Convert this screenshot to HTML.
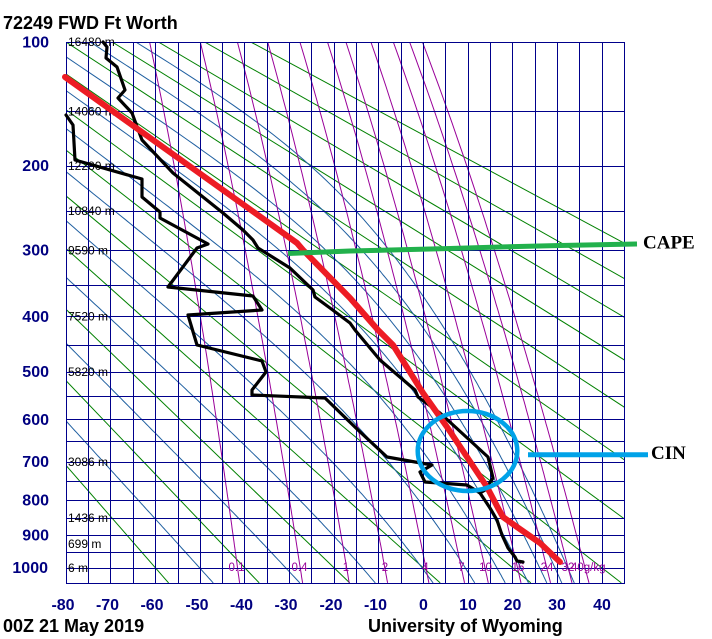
<!DOCTYPE html>
<html>
<head>
<meta charset="utf-8">
<style>
html,body{margin:0;padding:0;background:#fff;}
svg{display:block;}
.pl{font-family:"Liberation Sans",Arial,sans-serif;font-weight:bold;font-size:16px;fill:#000080;}
.hl{font-family:"Liberation Sans",Arial,sans-serif;font-size:12px;fill:#000;}
.ml{font-family:"Liberation Sans",Arial,sans-serif;font-size:11.5px;fill:#990099;}
.tt{font-family:"Liberation Sans",Arial,sans-serif;font-weight:bold;font-size:18px;fill:#000;}
.an{font-family:"Liberation Serif","Times New Roman",serif;font-weight:bold;font-size:19px;fill:#000;}
</style>
</head>
<body>
<svg width="712" height="639" viewBox="0 0 712 639">
<defs><clipPath id="c"><rect x="66" y="42" width="559" height="542"/></clipPath></defs>
<rect x="0" y="0" width="712" height="639" fill="#fff"/>
<g id="lines" clip-path="url(#c)"></g>
<g stroke="#00008b" stroke-width="1" shape-rendering="crispEdges" fill="none">
<path d="M66.5,42V584M88.5,42V584M110.5,42V584M133.5,42V584M155.5,42V584M178.5,42V584M200.5,42V584M222.5,42V584M244.5,42V584M267.5,42V584M289.5,42V584M311.5,42V584M334.5,42V584M356.5,42V584M378.5,42V584M401.5,42V584M423.5,42V584M445.5,42V584M468.5,42V584M490.5,42V584M512.5,42V584M535.5,42V584M557.5,42V584M579.5,42V584M602.5,42V584M624.5,42V584"/>
<path d="M66,42.5H625M66,111.5H625M66,166.5H625M66,211.5H625M66,250.5H625M66,285.5H625M66,316.5H625M66,345.5H625M66,372.5H625M66,396.5H625M66,419.5H625M66,441.5H625M66,462.5H625M66,481.5H625M66,500.5H625M66,518.5H625M66,535.5H625M66,552.5H625M66,568.5H625M66,583.5H625"/>
</g>
<!-- mixing ratio labels -->
<g class="ml" text-anchor="middle">
<text x="236.5" y="571">0.1</text>
<text x="299.5" y="571">0.4</text>
<text x="346" y="571">1</text>
<text x="385" y="571">2</text>
<text x="425.5" y="571">4</text>
<text x="461.5" y="571">7</text>
<text x="485.5" y="571">10</text>
<text x="518" y="571">16</text>
<text x="547" y="571">24</text>
<text x="568" y="571">32</text>
</g>
<text class="ml" x="571" y="571">40g/kg</text>
<!-- height labels -->
<g class="hl">
<text x="68" y="46">16480 m</text>
<text x="68" y="115.5">14060 m</text>
<text x="68" y="170">12280 m</text>
<text x="68" y="215">10840 m</text>
<text x="68" y="254.5">9590 m</text>
<text x="68" y="320.5">7520 m</text>
<text x="68" y="376">5820 m</text>
<text x="68" y="466">3086 m</text>
<text x="68" y="522">1436 m</text>
<text x="68" y="548">699 m</text>
<text x="68" y="572">6 m</text>
</g>
<!-- pressure labels -->
<g class="pl" text-anchor="end">
<text x="49" y="47.5">100</text>
<text x="49" y="171">200</text>
<text x="49" y="255.5">300</text>
<text x="49" y="322">400</text>
<text x="49" y="377">500</text>
<text x="49" y="425">600</text>
<text x="49" y="467">700</text>
<text x="49" y="505.5">800</text>
<text x="49" y="540.5">900</text>
<text x="48" y="573">1000</text>
</g>
<!-- temperature labels -->
<g class="pl" text-anchor="middle">
<text x="63" y="610">-80</text>
<text x="107.5" y="610">-70</text>
<text x="152" y="610">-60</text>
<text x="197" y="610">-50</text>
<text x="241.5" y="610">-40</text>
<text x="286" y="610">-30</text>
<text x="331" y="610">-20</text>
<text x="375.5" y="610">-10</text>
<text x="423.5" y="610">0</text>
<text x="468" y="610">10</text>
<text x="512.5" y="610">20</text>
<text x="557" y="610">30</text>
<text x="602" y="610">40</text>
</g>
<text class="tt" x="3" y="29">72249 FWD Ft Worth</text>
<text class="tt" x="3" y="632">00Z 21 May 2019</text>
<text class="tt" x="368" y="632">University of Wyoming</text>
<!-- sounding -->
<g fill="none" stroke="#000" stroke-width="3.2" stroke-linejoin="round" stroke-linecap="round">
<polyline points="103,42 107,47 106,58 117,67 125,90 118,98 132,113 142,140 173,173 223,213 243,230 253,240 258,248 290,268 313,290 315,297 330,308 350,323 355,330 380,360 415,390 418,397 440,413 488,457 493,478 485,490 480,493 490,508 497,520 502,535 508,548 515,557 517,561 523,562"/>
<polyline points="66,115 73,125 75,160 142,179 142,197 160,212 160,218 208,244 197,248 168,287 253,296 262,310 188,315 197,345 262,361 266,372 252,390 252,395 325,398 358,430 387,457 432,465 420,472 425,482 467,485 480,493"/>
</g>
<!-- annotations -->
<polyline points="65,77 297,243 303,250 350,298 378,330 393,345 423,393 447,427 487,487 498,508 503,517 517,527 540,543 560,562" fill="none" stroke="#ed1c24" stroke-width="6" stroke-linejoin="round" stroke-linecap="round"/>
<polyline points="288,253.5 350,251 450,248.5 500,247 560,245.5 637,244" fill="none" stroke="#22b14c" stroke-width="5"/>
<ellipse cx="467.5" cy="451" rx="49.8" ry="40" fill="none" stroke="#00a2e8" stroke-width="4.5"/>
<line x1="528" y1="454.7" x2="648" y2="454.7" stroke="#00a2e8" stroke-width="5"/>
<text class="an" x="643" y="248.5">CAPE</text>
<text class="an" x="651" y="459">CIN</text>
</svg>
<script>
(function(){
var K=0.286,S=151.1,P0=Math.pow(100,K);
function Y(p){return 42+(Math.pow(p,K)-P0)*S;}
function X(t){return 423.1+4.464*t;}
var s='';
/* dry adiabats */
for(var th=-60;th<=180;th+=20){
  var a=th+273.15;
  var x1=X(a*Math.pow(100/1000,K)-273.15),y1=Y(100);
  var x2=X(a*Math.pow(1050/1000,K)-273.15),y2=Y(1050);
  s+='<path d="M'+x1.toFixed(1)+','+y1.toFixed(1)+'L'+x2.toFixed(1)+','+y2.toFixed(1)+'" stroke="#008000" stroke-width="1" fill="none"/>';
}
/* moist adiabats */
function the(T,p){
  var Tk=T+273.15;
  var es=6.112*Math.exp(17.67*T/(T+243.5));
  if(es>p*0.9)return 1e9;
  var r=622*es/(p-es);
  return Tk*Math.pow(1000/p,0.2854*(1-0.00028*r))*Math.exp((3.376/Tk-0.00254)*r*(1+0.00081*r));
}
for(var te=-50;te<=130;te+=20){
  var target=te+273.15,d='';
  for(var p=100;p<=1050;p+=5){
    var lo=-140,hi=60;
    for(var i=0;i<40;i++){var m=(lo+hi)/2;if(the(m,p)<target)lo=m;else hi=m;}
    d+=(d?'L':'M')+X(lo).toFixed(1)+','+Y(p).toFixed(1);
  }
  s+='<path d="'+d+'" stroke="#1f5fa0" stroke-width="1" fill="none"/>';
}
/* mixing ratio lines */
var ws=[0.1,0.4,1,2,4,7,10,16,24,32,40];
for(var k=0;k<ws.length;k++){
  var w=ws[k],d2='';
  for(var p2=100;p2<=1050;p2+=10){
    var es=w*p2/(622+w);var L=Math.log(es/6.112);var T=243.5*L/(17.67-L);
    d2+=(d2?'L':'M')+X(T).toFixed(1)+','+Y(p2).toFixed(1);
  }
  s+='<path d="'+d2+'" stroke="#990099" stroke-width="1" fill="none"/>';
}
document.getElementById('lines').innerHTML=s;
})();
</script>
</body>
</html>
